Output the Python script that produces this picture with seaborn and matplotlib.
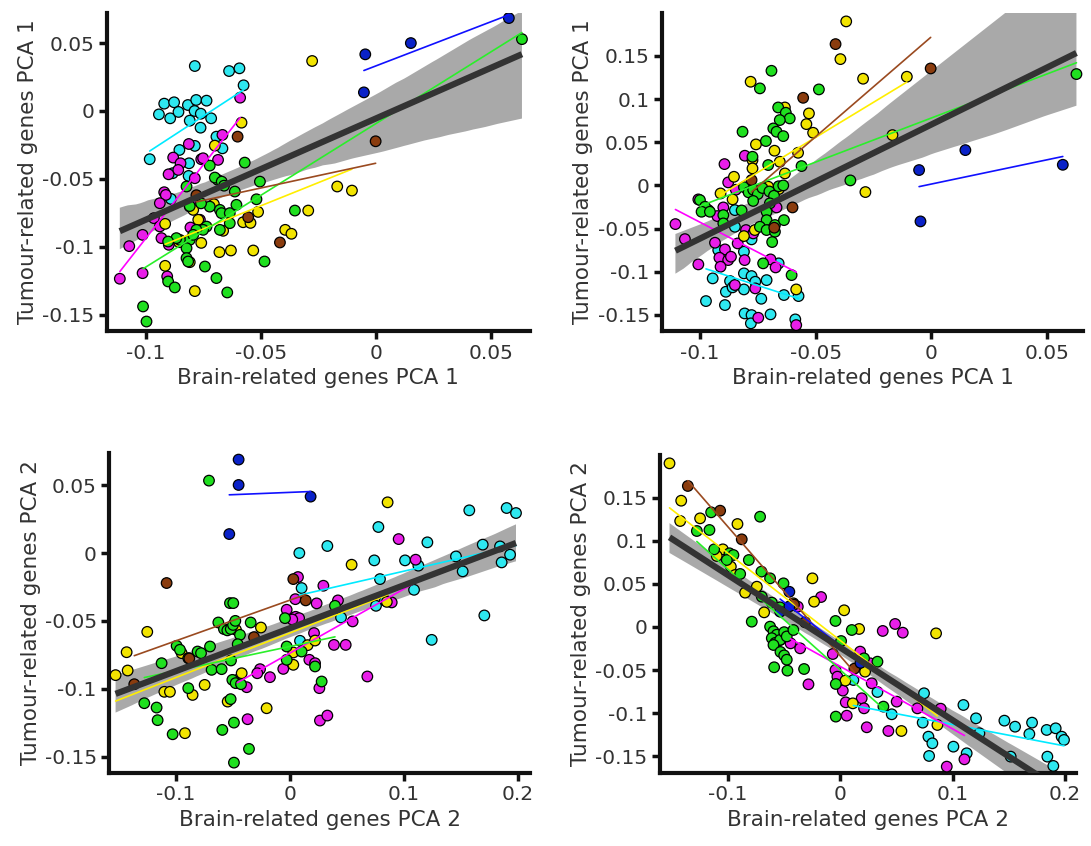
import pandas as pd
import matplotlib
matplotlib.use('Agg')
import matplotlib.pyplot as plt
import seaborn as sns
from matplotlib.ticker import FuncFormatter

# group colours (points) and their fit lines
groups = ['cyan', 'magenta', 'yellow', 'green', 'brown', 'blue']
point_colors = {'cyan': '#2ee8f0', 'magenta': '#e81ee8', 'yellow': '#f2e400',
                'green': '#1fe01f', 'brown': '#8a3c0e', 'blue': '#0a22c8'}
line_colors = {'cyan': '#00eaff', 'magenta': '#ff00ff', 'yellow': '#ffee00',
               'green': '#2aef2a', 'brown': '#9a4a20', 'blue': '#1010ff'}

# ---- top left: Brain PCA1 vs Tumour PCA1 ----
tl_points = {
    'cyan': [(-0.0787, 0.0331), (-0.0638, 0.0294), (-0.0593, 0.0314), (-0.0575, 0.0189), (-0.0943, -0.0025),
             (-0.0920, 0.0054), (-0.0877, 0.0064), (-0.0894, -0.0054), (-0.0858, -0.0007), (-0.0817, 0.0044),
             (-0.0781, 0.0081), (-0.0736, 0.0076), (-0.0788, 0.0), (-0.0809, -0.0071), (-0.0762, -0.0123),
             (-0.0761, -0.002), (-0.0716, -0.0054), (-0.0983, -0.0355), (-0.0693, -0.0189), (-0.0667, -0.0275),
             (-0.0787, -0.0257), (-0.0854, -0.0287), (-0.0812, -0.0385), (-0.0814, -0.0478), (-0.0883, -0.0458),
             (-0.0891, -0.0647)],
    'magenta': [(-0.059, 0.0098), (-0.0667, -0.0176), (-0.0813, -0.0243), (-0.0881, -0.0343), (-0.0849, -0.0385),
                (-0.0859, -0.0434), (-0.0901, -0.0466), (-0.0759, -0.0355), (-0.0686, -0.036), (-0.0751, -0.0348),
                (-0.0787, -0.0495), (-0.092, -0.0598), (-0.0913, -0.0618), (-0.078, -0.0662), (-0.0939, -0.0679),
                (-0.0965, -0.0789), (-0.0939, -0.085), (-0.0932, -0.0936), (-0.1014, -0.0912), (-0.1072, -0.0995),
                (-0.09, -0.0985), (-0.1014, -0.1194), (-0.1113, -0.1235), (-0.0907, -0.1218), (-0.0806, -0.0858),
                (-0.0765, -0.0801)],
    'yellow': [(-0.0277, 0.0368), (-0.0584, -0.0086), (-0.07, -0.0255), (-0.0168, -0.0556), (-0.0104, -0.0586),
               (-0.0294, -0.0733), (-0.0512, -0.0743), (-0.0577, -0.0819), (-0.0545, -0.0824), (-0.0394, -0.0875),
               (-0.0367, -0.0904), (-0.0664, -0.0882), (-0.0533, -0.1027), (-0.063, -0.1027), (-0.068, -0.1039),
               (-0.0759, -0.0971), (-0.0855, -0.0966), (-0.0916, -0.0831), (-0.0916, -0.114), (-0.0809, -0.1113),
               (-0.0787, -0.1326), (-0.0809, -0.0703), (-0.0794, -0.0728), (-0.0704, -0.0686), (-0.0772, -0.0801)],
    'green': [(0.0635, 0.0529), (-0.057, -0.038), (-0.0504, -0.052), (-0.0722, -0.0402), (-0.0687, -0.0507),
              (-0.07, -0.049), (-0.067, -0.052), (-0.066, -0.055), (-0.0613, -0.0593), (-0.0722, -0.0704),
              (-0.0678, -0.0728), (-0.0671, -0.0752), (-0.0635, -0.0752), (-0.0606, -0.0691), (-0.0519, -0.065),
              (-0.0635, -0.0826), (-0.0678, -0.0875), (-0.0736, -0.0851), (-0.0751, -0.0875), (-0.078, -0.0875),
              (-0.0809, -0.0949), (-0.0823, -0.101), (-0.0852, -0.0949), (-0.0867, -0.0936), (-0.0903, -0.0961),
              (-0.0823, -0.1083), (-0.0816, -0.1108), (-0.0743, -0.1145), (-0.0903, -0.1255), (-0.0874, -0.1299),
              (-0.0693, -0.123), (-0.0646, -0.1336), (-0.1012, -0.1439), (-0.0997, -0.155), (-0.0794, -0.0912),
              (-0.0352, -0.0733), (-0.0484, -0.1108), (-0.0823, -0.0556), (-0.0809, -0.07), (-0.076, -0.068)],
    'brown': [(-0.0601, -0.0189), (-0.0001, -0.0223), (-0.0555, -0.0782), (-0.0417, -0.0968), (-0.078, -0.062)],
    'blue': [(-0.0046, 0.0417), (-0.0052, 0.0137), (0.0152, 0.05), (0.0578, 0.0684)],
}

# ---- top right: Brain PCA1 vs Tumour PCA2 ----
tr_points = {
    'cyan': [(-0.0849, -0.0286), (-0.0849, -0.0479), (-0.0921, -0.0749), (-0.0777, -0.0625), (-0.081, -0.0768),
             (-0.0945, -0.1077), (-0.0974, -0.134), (-0.0892, -0.1386), (-0.087, -0.1108), (-0.0888, -0.1232),
             (-0.0859, -0.1181), (-0.081, -0.1019), (-0.081, -0.1205), (-0.0777, -0.105), (-0.0761, -0.1116),
             (-0.0735, -0.1313), (-0.0712, -0.1097), (-0.066, -0.0903), (-0.0637, -0.127), (-0.0574, -0.1282),
             (-0.0807, -0.1483), (-0.0777, -0.1502), (-0.0695, -0.1494), (-0.078, -0.1598), (-0.0588, -0.1552)],
    'magenta': [(-0.1106, -0.0448), (-0.1065, -0.0622), (-0.1007, -0.0915), (-0.1007, -0.0162), (-0.0964, -0.0286),
                (-0.0894, 0.0247), (-0.0878, 0.0035), (-0.0845, -0.005), (-0.0806, 0.0344), (-0.0899, -0.0255),
                (-0.0925, -0.0355), (-0.0935, -0.0664), (-0.0892, -0.0741), (-0.0916, -0.0838), (-0.0878, -0.0865),
                (-0.0866, -0.0826), (-0.0911, -0.0942), (-0.0837, -0.0672), (-0.0801, -0.0517), (-0.077, -0.0556),
                (-0.0807, -0.0865), (-0.0669, -0.0255), (-0.0695, -0.0857), (-0.0673, -0.095), (-0.0761, -0.1193),
                (-0.0849, -0.1154), (-0.0748, -0.1533), (-0.0584, -0.1618)],
    'yellow': [(-0.0368, 0.19), (-0.0393, 0.1463), (-0.0295, 0.1236), (-0.0106, 0.1259), (-0.0781, 0.1201),
               (-0.0633, 0.0903), (-0.0529, 0.0834), (-0.054, 0.071), (-0.0511, 0.061), (-0.0678, 0.0402),
               (-0.0758, 0.0475), (-0.0773, 0.0293), (-0.0773, 0.0197), (-0.0576, 0.0378), (-0.0655, 0.0274),
               (-0.0168, 0.0583), (-0.0285, -0.0077), (-0.0853, 0.01), (-0.0911, -0.0093), (-0.0859, -0.0162),
               (-0.081, -0.0587), (-0.0763, -0.0517), (-0.0584, -0.1205), (-0.0659, -0.0042), (-0.0633, 0.0139),
               (-0.0705, -0.0015)],
    'green': [(-0.0691, 0.1328), (-0.0741, 0.1124), (-0.0486, 0.1112), (-0.0662, 0.0903), (-0.0629, 0.0842),
              (-0.0612, 0.0776), (-0.0655, 0.0757), (-0.0816, 0.0622), (-0.0683, 0.066), (-0.0669, 0.0622),
              (-0.064, 0.0571), (-0.0715, 0.0514), (-0.0773, 0.0332), (-0.0705, 0.0236), (-0.0561, 0.0224),
              (-0.035, 0.0058), (0.0627, 0.129), (-0.1, -0.017), (-0.0978, -0.0247), (-0.0993, -0.0305),
              (-0.0957, -0.0305), (-0.0899, -0.0344), (-0.0899, -0.044), (-0.081, -0.002), (-0.079, -0.008),
              (-0.077, -0.005), (-0.075, -0.01), (-0.073, -0.003), (-0.07, -0.007), (-0.068, -0.012),
              (-0.066, -0.001), (-0.0698, -0.0208), (-0.0712, -0.0305), (-0.0712, -0.0402), (-0.0741, -0.0479),
              (-0.0712, -0.0517), (-0.0676, -0.0459), (-0.0676, -0.0537), (-0.0637, -0.0402), (-0.0688, -0.0656),
              (-0.0604, -0.1039), (-0.0727, -0.0903), (-0.082, -0.029), (-0.077, -0.018), (-0.064, 0.0)],
    'brown': [(-0.0414, 0.1637), (-0.0554, 0.1015), (-0.0003, 0.1355), (-0.0777, 0.0062), (-0.06, -0.0255),
              (-0.0679, -0.049)],
    'blue': [(-0.0053, 0.0178), (-0.0047, -0.0417), (0.0147, 0.0409), (0.0568, 0.0239)],
}

# ---- bottom left: Brain PCA2 vs Tumour PCA1 ----
bl_points = {
    'cyan': [(0.0082, 0.0), (0.0328, 0.0052), (0.0776, 0.0192), (0.074, -0.0054), (0.079, -0.0192),
             (0.101, -0.0054), (0.1206, 0.0079), (0.1127, -0.0093), (0.1457, -0.0025), (0.1516, -0.0135),
             (0.1574, 0.0315), (0.1692, 0.0062), (0.1902, 0.0332), (0.1984, 0.0295), (0.1932, -0.0012),
             (0.1858, -0.0069), (0.1844, 0.0049), (0.1706, -0.046), (0.1244, -0.064), (0.1089, -0.0271),
             (0.0755, -0.0389), (0.0834, -0.0349), (0.0448, -0.0475), (0.0102, -0.0258), (0.0088, -0.0647)],
    'magenta': [(0.0954, 0.0103), (0.1103, -0.0049), (0.0293, -0.0241), (0.007, -0.0177), (0.0047, -0.034),
                (-0.0029, -0.0418), (0.005, -0.047), (0.008, -0.048), (0.002, -0.049), (0.0234, -0.0371),
                (0.0421, -0.0349), (0.055, -0.0504), (0.0893, -0.0364), (0.0386, -0.0677), (0.0489, -0.0677),
                (0.0211, -0.059), (0.017, -0.0787), (0.022, -0.0812), (-0.0059, -0.0854), (-0.0263, -0.0856),
                (-0.0176, -0.0915), (-0.0287, -0.0886), (-0.038, -0.0989), (-0.0462, -0.0935), (0.0258, -0.0996),
                (0.0679, -0.091), (-0.0372, -0.1225), (0.0263, -0.1235), (0.0328, -0.1198)],
    'yellow': [(0.0857, 0.0374), (0.0541, -0.0086), (-0.1253, -0.0581), (-0.1434, -0.0731), (-0.1531, -0.09),
               (-0.1425, -0.0866), (-0.1103, -0.1023), (-0.1054, -0.1023), (-0.0855, -0.1046), (-0.0749, -0.0972),
               (-0.0922, -0.1328), (-0.0951, -0.0738), (-0.0255, -0.0549), (-0.0205, -0.1144), (-0.0474, -0.0566),
               (-0.0424, -0.0886), (-0.0547, -0.1095), (0.0029, -0.0733), (0.0029, -0.0824), (0.0155, -0.0679),
               (0.022, -0.0645), (0.085, -0.036)],
    'green': [(-0.0711, 0.0534), (-0.0527, -0.0369), (-0.0498, -0.0369), (-0.0629, -0.0512), (-0.058, -0.056),
              (-0.055, -0.057), (-0.052, -0.056), (-0.05, -0.053), (-0.048, -0.05), (-0.0345, -0.0512),
              (-0.0439, -0.0603), (-0.0459, -0.0672), (-0.0702, -0.0689), (-0.0811, -0.0726), (-0.0781, -0.0738),
              (-0.0995, -0.0684), (-0.0966, -0.0713), (-0.0893, -0.0775), (-0.1127, -0.0812), (-0.0688, -0.0861),
              (-0.06, -0.0856), (-0.0518, -0.0792), (-0.0506, -0.0935), (-0.0477, -0.0959), (-0.043, -0.0967),
              (-0.0893, -0.0996), (-0.1279, -0.1107), (-0.1171, -0.1139), (-0.1162, -0.1232), (-0.103, -0.1336),
              (-0.0594, -0.1304), (-0.0521, -0.1077), (-0.0492, -0.125), (-0.036, -0.1444), (-0.0492, -0.1545),
              (-0.0044, -0.048), (-0.0029, -0.0689), (-0.0029, -0.0787), (0.0102, -0.0726), (0.022, -0.0836),
              (0.0278, -0.0947), (0.0395, -0.0389)],
    'brown': [(-0.1083, -0.0221), (0.0029, -0.0192), (0.0138, -0.0349), (-0.0316, -0.062), (-0.0884, -0.0777),
              (-0.1367, -0.0967)],
    'blue': [(-0.0451, 0.0689), (-0.0451, 0.0502), (-0.0533, 0.014), (0.0181, 0.0416)],
}

# ---- bottom right: Brain PCA2 vs Tumour PCA2 ----
br_points = {
    'cyan': [(0.0746, -0.077), (0.0734, -0.1111), (0.0785, -0.1274), (0.082, -0.1351), (0.0791, -0.1498),
             (0.0459, -0.1014), (0.0332, -0.0755), (0.0118, -0.0616), (0.1007, -0.139), (0.1096, -0.0906),
             (0.1125, -0.1467), (0.1208, -0.1061), (0.1238, -0.1235), (0.146, -0.1088), (0.1555, -0.1158),
             (0.1682, -0.1243), (0.1706, -0.1111), (0.1836, -0.1196), (0.1916, -0.1177), (0.1969, -0.1274),
             (0.199, -0.1312), (0.1842, -0.1506), (0.1895, -0.1614), (0.1516, -0.1506)],
    'magenta': [(-0.0376, 0.0236), (-0.0169, 0.0348), (-0.0281, -0.0666), (-0.0355, -0.0248), (-0.044, -0.019),
                (-0.0065, -0.0314), (-0.0041, -0.0499), (-0.0024, -0.0577), (0.0024, -0.0739), (0.005, -0.0875),
                (0.0059, -0.103), (0.0192, -0.0828), (0.0213, -0.0945), (0.0237, -0.1165), (0.0178, -0.0286),
                (0.0267, -0.0422), (0.0281, -0.0654), (0.0379, -0.0046), (0.0489, 0.0035), (0.0557, -0.0066),
                (0.0429, -0.1208), (0.0503, -0.0867), (0.0687, -0.0945), (0.0894, -0.0949), (0.0948, -0.1622),
                (0.1105, -0.1537)],
    'yellow': [(-0.1516, 0.1901), (-0.1412, 0.1467), (-0.1421, 0.1231), (-0.1244, 0.1262), (-0.0912, 0.1196),
               (-0.1042, 0.0902), (-0.1096, 0.0825), (-0.0971, 0.0701), (-0.0933, 0.0604), (-0.074, 0.0468),
               (-0.0844, 0.0399), (-0.0675, 0.017), (-0.0246, 0.0565), (-0.0231, 0.0294), (-0.0415, 0.0275),
               (0.0036, 0.0194), (0.0169, -0.0023), (0.0853, -0.0074), (0.0222, -0.0519), (0.0113, -0.0887),
               (0.0865, -0.1138), (0.0545, -0.1208), (0.0047, -0.0623), (-0.0533, -0.0151)],
    'green': [(-0.0711, 0.1281), (-0.1146, 0.1332), (-0.1161, 0.1127), (-0.1273, 0.1115), (-0.1119, 0.0902),
              (-0.0983, 0.0856), (-0.0948, 0.0836), (-0.1007, 0.0778), (-0.0811, 0.0778), (-0.0888, 0.0616),
              (-0.0699, 0.0643), (-0.0622, 0.0565), (-0.0503, 0.0507), (-0.0696, 0.0352), (-0.0607, 0.0283),
              (-0.0533, 0.0228), (-0.0785, 0.0062), (-0.0622, 0.0004), (-0.0592, -0.005), (-0.0563, -0.009),
              (-0.0607, -0.013), (-0.0577, -0.0185), (-0.0533, -0.015), (-0.0497, -0.006), (-0.0474, -0.011),
              (-0.0592, -0.0209), (-0.053, -0.029), (-0.0497, -0.033), (-0.0474, -0.038), (-0.0586, -0.0468),
              (-0.0468, -0.0507), (-0.032, -0.0488), (-0.0041, 0.007), (0.0009, -0.0163), (0.0104, -0.0035),
              (0.0213, -0.0364), (0.0332, -0.0403), (-0.0038, -0.0662), (-0.0038, -0.1041), (0.0385, -0.0925),
              (-0.0415, -0.0035)],
    'brown': [(-0.1353, 0.1638), (-0.1066, 0.1351), (-0.0874, 0.1018), (-0.0311, 0.0054), (0.0127, -0.0484),
              (-0.041, 0.026)],
    'blue': [(-0.0451, 0.0239), (-0.0451, 0.0409), (-0.0533, 0.0178), (0.0181, -0.0417)],
}

panels = [
    # points, axes rect, xlim, ylim, xticks, yticks, xlabel, ylabel
    (tl_points, [0.0978, 0.6087, 0.388, 0.3762], (-0.117, 0.067), (-0.162, 0.0723),
     [-0.1, -0.05, 0, 0.05], [-0.15, -0.1, -0.05, 0, 0.05],
     'Brain-related genes PCA 1', 'Tumour-related genes PCA 1'),
    (tr_points, [0.607, 0.6087, 0.3856, 0.3762], (-0.1163, 0.0655), (-0.1687, 0.2),
     [-0.1, -0.05, 0, 0.05], [-0.15, -0.1, -0.05, 0, 0.05, 0.1, 0.15],
     'Brain-related genes PCA 1', 'Tumour-related genes PCA 1'),
    (bl_points, [0.1002, 0.0867, 0.3856, 0.3779], (-0.1586, 0.2107), (-0.1619, 0.0738),
     [-0.1, 0, 0.1, 0.2], [-0.15, -0.1, -0.05, 0, 0.05],
     'Brain-related genes PCA 2', 'Tumour-related genes PCA 2'),
    (br_points, [0.605, 0.0867, 0.3813, 0.3755], (-0.16, 0.2097), (-0.1692, 0.1998),
     [-0.1, 0, 0.1, 0.2], [-0.15, -0.1, -0.05, 0, 0.05, 0.1, 0.15],
     'Brain-related genes PCA 2', 'Tumour-related genes PCA 2'),
]

sns.set_style('ticks')
fig = plt.figure(figsize=(10.91, 8.46), dpi=100)
fmt = FuncFormatter(lambda v, p: f'{round(v, 4):g}')

for pts, rect, xlim, ylim, xticks, yticks, xlabel, ylabel in panels:
    ax = fig.add_axes(rect)
    rows = [(g, x, y) for g in groups for x, y in pts[g]]
    df = pd.DataFrame(rows, columns=['group', 'x', 'y'])

    # pooled regression with grey confidence band
    sns.regplot(data=df, x='x', y='y', scatter=False, ax=ax, color='#333333', ci=97, seed=1,
                line_kws={'lw': 4.5, 'zorder': 6, 'solid_capstyle': 'butt'})
    band = ax.collections[-1]
    band.set_facecolor('#a9a9a9')
    band.set_alpha(1)
    band.set_edgecolor('none')
    band.set_zorder(1)

    sns.scatterplot(data=df, x='x', y='y', hue='group', palette=point_colors, s=58,
                    edgecolor='black', linewidth=0.9, legend=False, ax=ax, zorder=3)

    # per-group fits
    for g in groups:
        sub = df[df['group'] == g]
        sns.regplot(data=sub, x='x', y='y', scatter=False, ci=None, ax=ax,
                    color=line_colors[g], line_kws={'lw': 1.2, 'zorder': 5})

    ax.set_xlim(*xlim)
    ax.set_ylim(*ylim)
    ax.set_xticks(xticks)
    ax.set_yticks(yticks)
    ax.xaxis.set_major_formatter(fmt)
    ax.yaxis.set_major_formatter(fmt)
    ax.set_xlabel(xlabel, fontsize=15.5, color='#333333', labelpad=4)
    ax.set_ylabel(ylabel, fontsize=15.5, color='#333333', labelpad=3)
    sns.despine(ax=ax)
    for s in ['left', 'bottom']:
        ax.spines[s].set_linewidth(3)
        ax.spines[s].set_color('#111111')
    ax.tick_params(axis='both', direction='out', length=6, width=2.5, color='#111111',
                   labelsize=14.5, labelcolor='#333333', pad=3)

fig.savefig('out.png', dpi=100)
